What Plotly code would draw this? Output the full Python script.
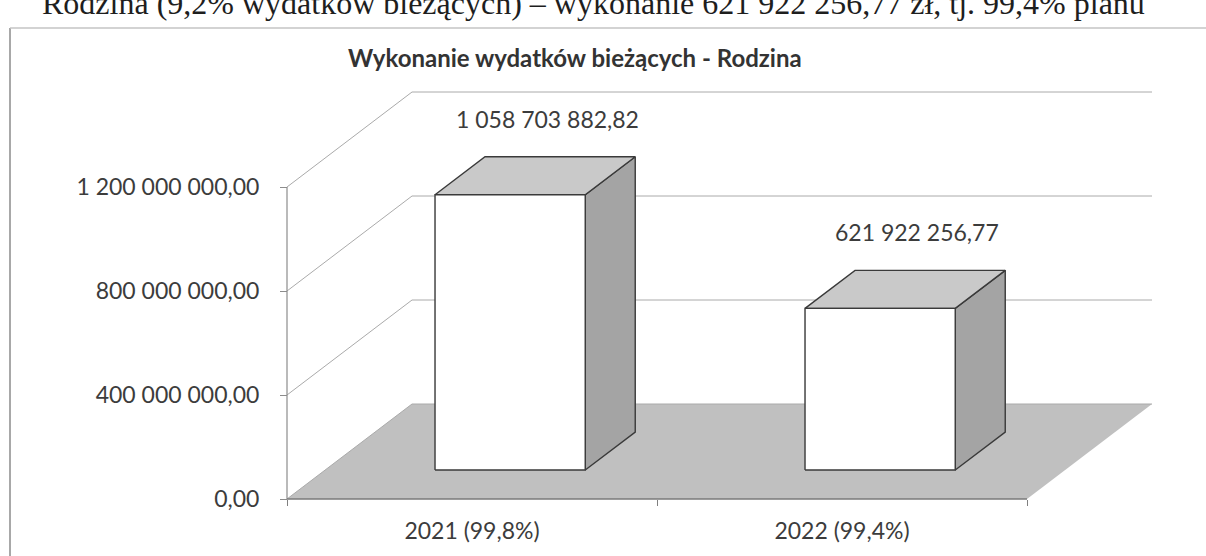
import plotly.graph_objects as go

# ---------------- data ----------------
categories = ["2021 (99,8%)", "2022 (99,4%)"]
values = [1058703882.82, 621922256.77]
value_labels = ["1 058 703 882,82", "621 922 256,77"]
y_tickvals = [0, 400e6, 800e6, 1200e6]
title_text = "Wykonanie wydatków bieżących - Rodzina"
header_text = "Rodzina (9,2% wydatków bieżących) – wykonanie 621 922 256,77 zł, tj. 99,4% planu"

# ---------------- geometry (pixels) ----------------
W, H = 1206, 556
ML, MR, MT, MB = 268, 31, 80, 50
X0_PX, Y0_PX = 287, 499          # front-left corner of floor (x=-0.5, y=0)
PX_PER_CAT = 370.0
PX_PER_VAL = 260.0 / 1e9
DEPTH_PX = (125.0, -95.0)         # oblique depth vector
DX = DEPTH_PX[0] / PX_PER_CAT
DY = -DEPTH_PX[1] / PX_PER_VAL
BAR_HALF = 0.203
D_FRONT, D_BACK = 0.305, 0.705

plot_w = W - ML - MR
plot_h = H - MT - MB
x_left = -0.5 - (X0_PX - ML) / PX_PER_CAT
x_right = x_left + plot_w / PX_PER_CAT
y_bottom = -((H - MB) - Y0_PX) / PX_PER_VAL
y_top = (Y0_PX - MT) / PX_PER_VAL


def px_x(px):
    return (px - ML) / plot_w


def px_y(py):
    return ((H - MB) - py) / plot_h


def proj(x, v, d):
    return x + d * DX, v + d * DY


def poly(points):
    xs, ys = [], []
    for (x, v, d) in points:
        a, b = proj(x, v, d)
        xs.append(a)
        ys.append(b)
    xs.append(xs[0])
    ys.append(ys[0])
    return xs, ys


fig = go.Figure()
n = len(categories)
xl, xr = -0.5, n - 0.5

# floor
fx, fy = poly([(xl, 0, 0), (xr, 0, 0), (xr, 0, 1), (xl, 0, 1)])
fig.add_trace(go.Scatter(x=fx, y=fy, mode="lines", fill="toself", fillcolor="#c0c0c0",
                         line=dict(width=0, color="#c0c0c0"), hoverinfo="skip", showlegend=False))

# gridlines (left wall + back wall)
gx, gy = [], []
for v in y_tickvals:
    for (x, d) in [(xl, 0), (xl, 1), (xr, 1)]:
        a, b = proj(x, v, d)
        gx.append(a)
        gy.append(b)
    gx.append(None)
    gy.append(None)
fig.add_trace(go.Scatter(x=gx, y=gy, mode="lines", line=dict(color="#aaaaaa", width=1),
                         hoverinfo="skip", showlegend=False))

# value axis line
fig.add_trace(go.Scatter(x=[xl, xl], y=[0, y_tickvals[-1]], mode="lines",
                         line=dict(color="#8c8c8c", width=1.2), hoverinfo="skip", showlegend=False))
# floor front edge
fig.add_trace(go.Scatter(x=[xl, xr], y=[0, 0], mode="lines",
                         line=dict(color="#7a7a7a", width=1.5), hoverinfo="skip", showlegend=False))

# bars
edge = dict(color="#3a3a3a", width=1.4)
for i, v in enumerate(values):
    x0, x1 = i - BAR_HALF, i + BAR_HALF
    sx, sy = poly([(x1, 0, D_FRONT), (x1, 0, D_BACK), (x1, v, D_BACK), (x1, v, D_FRONT)])
    fig.add_trace(go.Scatter(x=sx, y=sy, mode="lines", fill="toself", fillcolor="#a4a4a4",
                             line=edge, hoverinfo="skip", showlegend=False))
    tx, ty = poly([(x0, v, D_FRONT), (x1, v, D_FRONT), (x1, v, D_BACK), (x0, v, D_BACK)])
    fig.add_trace(go.Scatter(x=tx, y=ty, mode="lines", fill="toself", fillcolor="#c9c9c9",
                             line=edge, hoverinfo="skip", showlegend=False))
    rx, ry = poly([(x0, 0, D_FRONT), (x1, 0, D_FRONT), (x1, v, D_FRONT), (x0, v, D_FRONT)])
    fig.add_trace(go.Scatter(x=rx, y=ry, mode="lines", fill="toself", fillcolor="#ffffff",
                             line=edge, hoverinfo="skip", showlegend=False))

TEXT = "#3c3c3c"
FONT = "Lato"

annotations = []
for i, v in enumerate(values):
    ax, ay = proj(i, v, D_BACK)
    annotations.append(dict(x=ax - DX * (D_BACK - D_FRONT) / 2, y=ay, xref="x", yref="y",
                            text=value_labels[i], showarrow=False, xshift=12, yshift=38,
                            font=dict(family=FONT, size=23, color=TEXT)))

annotations.append(dict(x=px_x(575), y=px_y(57), xref="paper", yref="paper", text="<b>" + title_text + "</b>",
                        showarrow=False, xanchor="center", yanchor="middle",
                        font=dict(family=FONT, size=24, color="#333333")))
annotations.append(dict(x=px_x(40), y=px_y(3), xref="paper", yref="paper", text=header_text,
                        showarrow=False, xanchor="left", yanchor="middle",
                        font=dict(family="Liberation Serif", size=32, color="#1e1e1e")))

shapes = [
    dict(type="line", xref="paper", yref="paper", x0=px_x(10), x1=px_x(10), y0=px_y(28), y1=px_y(560),
         line=dict(color="#a8a8a8", width=2)),
    dict(type="line", xref="paper", yref="paper", x0=px_x(10), x1=px_x(1210), y0=px_y(28), y1=px_y(28),
         line=dict(color="#c4c4c4", width=1.5)),
]

fig.update_layout(
    width=W, height=H,
    margin=dict(l=ML, r=MR, t=MT, b=MB, autoexpand=False),
    paper_bgcolor="white", plot_bgcolor="white",
    separators=", ",
    showlegend=False,
    annotations=annotations,
    shapes=shapes,
    xaxis=dict(range=[x_left, x_right], tickmode="array", tickvals=list(range(n)), ticktext=categories,
               ticks="outside", ticklen=6, tickcolor="rgba(0,0,0,0)", showgrid=False, zeroline=False,
               showline=False, anchor="free", position=px_y(Y0_PX), ticklabelstandoff=5,
               tickfont=dict(family=FONT, size=23, color=TEXT),
               minor=dict(tickmode="array", tickvals=[xl + k for k in range(n + 1)], ticks="outside",
                          ticklen=6, tickcolor="#808080", showgrid=False)),
    yaxis=dict(range=[y_bottom, y_top], tickmode="array", tickvals=y_tickvals, tickformat=",.2f",
               ticks="outside", ticklen=7, tickcolor="#8c8c8c", showgrid=False, zeroline=False,
               showline=False, anchor="free", position=px_x(X0_PX), ticklabelstandoff=16,
               tickfont=dict(family=FONT, size=23, color=TEXT)),
)

fig.write_html("out.html", config={"displayModeBar": False},
               post_script="document.body.style.margin='0';")
